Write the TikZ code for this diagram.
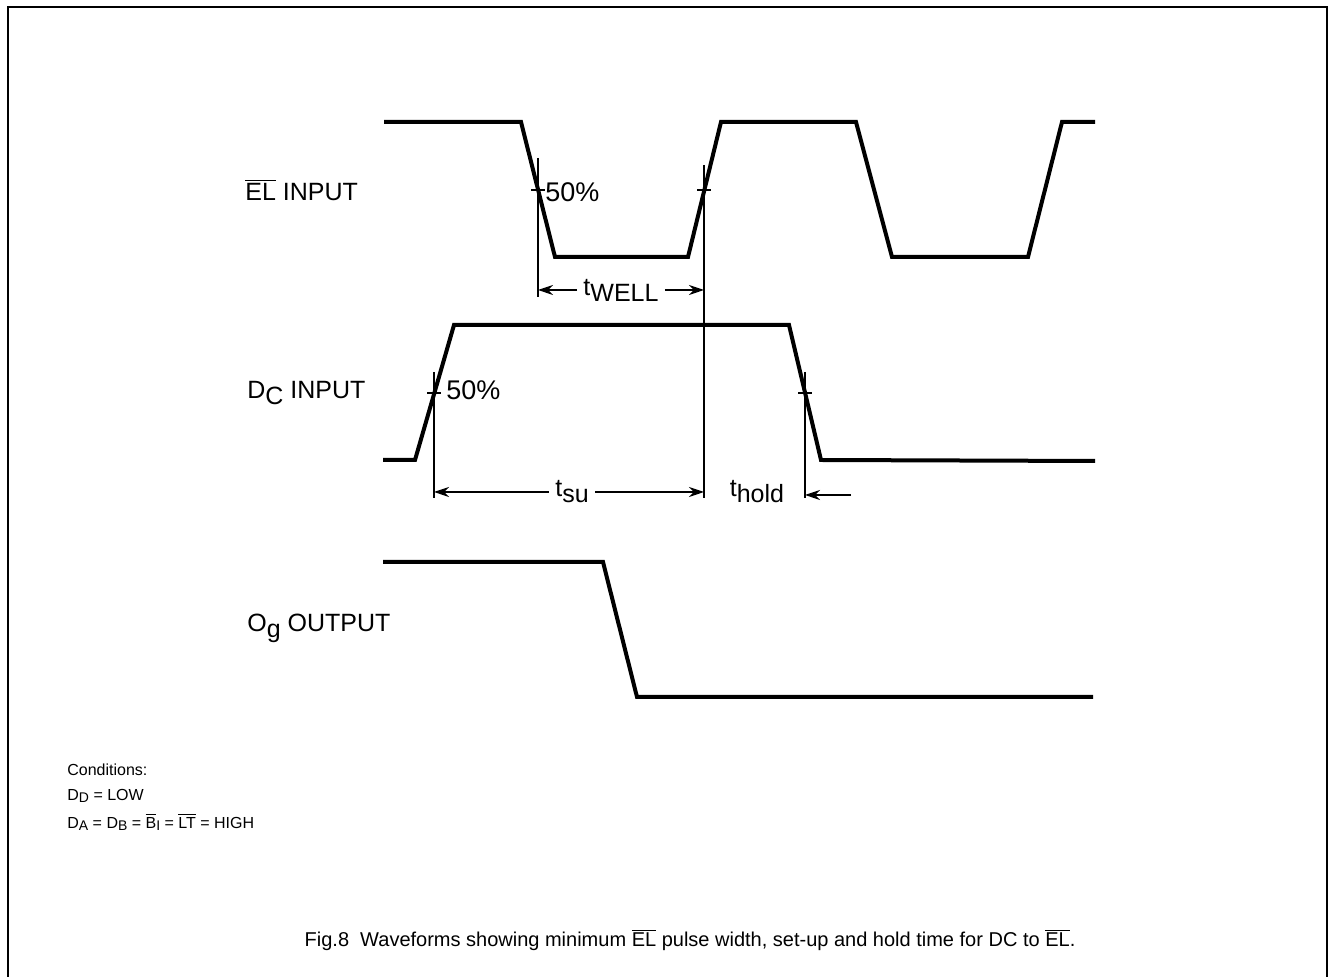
\documentclass[tikz,border=0pt]{standalone}
\usepackage{fontspec}
\setmainfont{Liberation Sans}
\usetikzlibrary{arrows.meta,positioning,calc}
\newcommand{\lowsub}[1]{\raisebox{-0.45ex}{#1}}
\newcommand{\smallsub}[1]{\raisebox{-0.3ex}{\scriptsize #1}}
\newcommand{\barred}[1]{$\overline{\mbox{#1}}$}
\tikzset{
  wave/.style    = {line width=2pt, line join=miter},
  guide/.style   = {line width=0.6pt},
  dim/.style     = {-{Stealth[length=7.5pt,width=5pt]}, line width=0.6pt},
  sig/.style     = {anchor=west, font=\fontsize{12.5}{14}\selectfont, inner sep=0pt},
  pct/.style     = {anchor=west, font=\fontsize{13.5}{15}\selectfont, inner sep=0pt},
  cond/.style    = {anchor=west, font=\fontsize{8}{9}\selectfont, inner sep=0pt},
}
\begin{document}
\begin{tikzpicture}[x=0.5pt,y=-0.5pt]
    \useasboundingbox (0,0) rectangle (1329,977);
    \draw[line width=1pt] (8,977) -- (8,7) -- (1327,7) -- (1327,977);

    % signal names
    \node[sig] (elname) at (245,190) {\barred{EL} INPUT};
    \node[sig] (dcname) at (247,393) {D\lowsub{C} INPUT};
    \node[sig] (ogname) at (247,628) {O\lowsub{g} OUTPUT};

    % waveforms
    \draw[wave] (384,122) -- (521,122) -- (555,257) -- (688,257) -- (721,122)
                -- (856,122) -- (892,257) -- (1028,257) -- (1062,122) -- (1095,122);
    \draw[wave] (383,460) -- (415,460) -- (454,325) -- (789,325) -- (821,460) -- (1095,461);
    \draw[wave] (383,562) -- (603,562) -- (637,697) -- (1093,697);

    % 50% points
    \coordinate (elfall) at (538,190);
    \coordinate (elrise) at (704,190);
    \coordinate (dcrise) at (434,393);
    \coordinate (dcfall) at (805,393);
    \foreach \p in {elfall,elrise,dcrise,dcfall}
      \draw[guide] ($(\p)+(-7,0)$) -- ($(\p)+(7,0)$);
    \draw[guide] ($(elfall)+(0,-32)$) -- ($(elfall)+(0,107)$);
    \draw[guide] ($(elrise)+(0,-25)$) -- ($(elrise)+(0,308)$);
    \draw[guide] ($(dcrise)+(0,-21)$) -- ($(dcrise)+(0,105)$);
    \draw[guide] ($(dcfall)+(0,-21)$) -- ($(dcfall)+(0,105)$);
    \node[pct] (elpct) at (545,192) {50\%};
    \node[pct] (dcpct) at (446,390) {50\%};

    % timing
    \node[sig, anchor=center, inner sep=3pt] (twell) at (621,290) {t\lowsub{WELL}};
    \draw[dim] (twell) -- (twell -| elfall);
    \draw[dim] (twell) -- (twell -| elrise);
    \node[sig, anchor=center, inner sep=3pt] (tsu) at (572,492) {t\lowsub{su}};
    \draw[dim] (tsu) -- (tsu -| dcrise);
    \draw[dim] (tsu) -- (tsu -| elrise);
    \node[sig, anchor=center, inner sep=3pt] (thold) at (757,492) {t\lowsub{hold}};
    \coordinate (holdend) at (851,495);
    \draw[dim] (holdend) -- (holdend -| dcfall);

    % conditions
    \node[cond] (c1) at (67,770) {Conditions:};
    \node[cond] (c2) at (67,796) {D\smallsub{D} = LOW};
    \node[cond] (c3) at (67,822) {D\smallsub{A} = D\smallsub{B} = \barred{B}\smallsub{I} = \barred{LT} = HIGH};

    \node[font=\fontsize{10}{12}\selectfont] (caption) at (690,940)
      {Fig.8\ \ Waveforms showing minimum \barred{EL} pulse width, set-up and hold time for DC to \barred{EL}.};
\end{tikzpicture}
\end{document}
